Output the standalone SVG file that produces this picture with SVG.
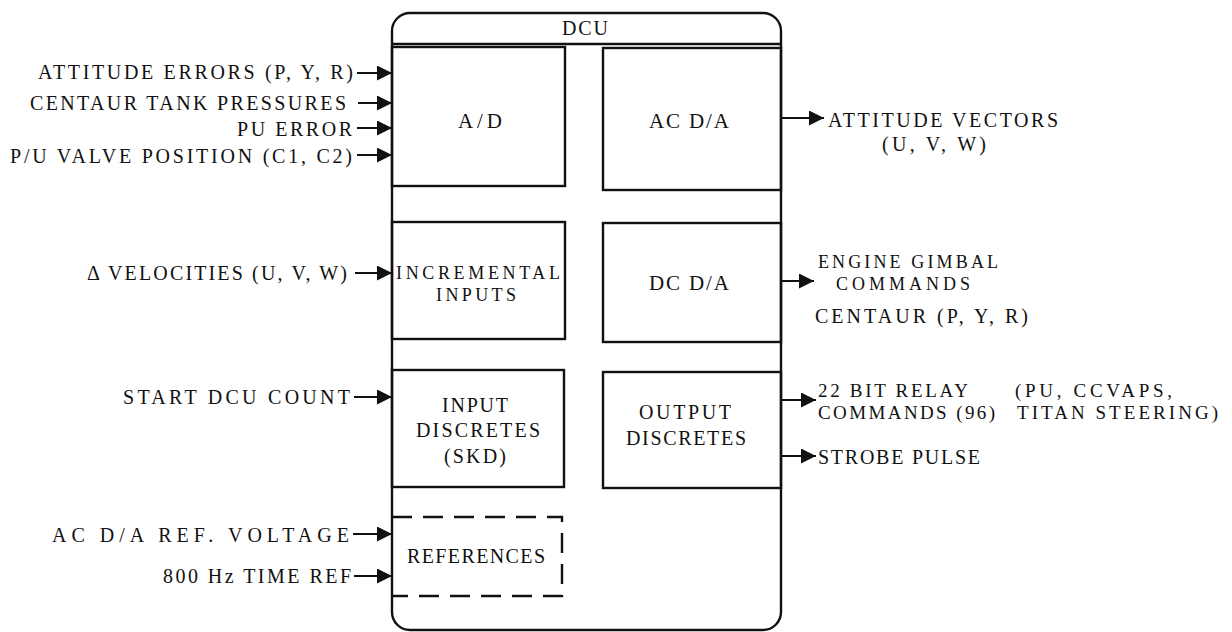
<svg xmlns="http://www.w3.org/2000/svg" width="1232" height="632" viewBox="0 0 1232 632">
<defs>
<style>
.m{text-anchor:middle}
.e{text-anchor:end}
.box{fill:none;stroke:#111;stroke-width:2.4}
.dash{fill:none;stroke:#111;stroke-width:2.4;stroke-dasharray:20 11}
.c{stroke:#111;stroke-width:2.2;fill:none;marker-end:url(#ah)}
</style>
<marker id="ah" markerUnits="userSpaceOnUse" markerWidth="16" markerHeight="16" refX="15" refY="7.5" orient="auto">
<path d="M0,0 L15,7.5 L0,15 z" fill="#111"/>
</marker>
</defs>
<rect width="1232" height="632" fill="#fff"/>

<g id="dcu" font-family="Liberation Serif" font-size="20" fill="#111">
<rect class="box" x="392" y="13" width="389" height="617" rx="18" ry="18"/>
<line class="box" x1="392" y1="44" x2="781" y2="44"/>
<text class="m" x="585" y="35" font-size="20" textLength="46">DCU</text>
</g>

<g id="ad" font-family="Liberation Serif" font-size="21" fill="#111">
<rect class="box" x="392" y="47" width="173" height="139"/>
<text class="m" x="480" y="128" textLength="44">A/D</text>
</g>
<g id="acda" font-family="Liberation Serif" font-size="21" fill="#111">
<rect class="box" x="603" y="48" width="178" height="142"/>
<text class="m" x="689" y="128" textLength="80">AC D/A</text>
</g>
<g id="incremental" font-family="Liberation Serif" font-size="18" fill="#111">
<rect class="box" x="392" y="222" width="173" height="117"/>
<text class="m" x="478" y="279" textLength="164">INCREMENTAL</text>
<text class="m" x="476" y="301" textLength="80">INPUTS</text>
</g>
<g id="dcda" font-family="Liberation Serif" font-size="21" fill="#111">
<rect class="box" x="603" y="223" width="178" height="119"/>
<text class="m" x="689" y="290" textLength="80">DC D/A</text>
</g>
<g id="inputdiscretes" font-family="Liberation Serif" font-size="20" fill="#111">
<rect class="box" x="392" y="370" width="172" height="117"/>
<text class="m" x="475" y="412" textLength="66">INPUT</text>
<text class="m" x="478" y="437" textLength="124">DISCRETES</text>
<text class="m" x="475" y="463" textLength="62">(SKD)</text>
</g>
<g id="outputdiscretes" font-family="Liberation Serif" font-size="20" fill="#111">
<rect class="box" x="603" y="372" width="178" height="116"/>
<text class="m" x="685" y="419" textLength="92">OUTPUT</text>
<text class="m" x="686" y="445" textLength="120">DISCRETES</text>
</g>
<g id="references" font-family="Liberation Serif" font-size="20" fill="#111">
<path class="dash" d="M392,517 H562 V596 H392"/>
<text class="m" x="476" y="563" textLength="138">REFERENCES</text>
</g>

<g id="inputs" font-family="Liberation Serif" font-size="20" fill="#111">
<text class="e" x="353" y="79" textLength="315">ATTITUDE ERRORS (P, Y, R)</text>
<text class="e" x="346" y="110" textLength="316">CENTAUR TANK PRESSURES</text>
<text class="e" x="352" y="136" textLength="115">PU ERROR</text>
<text class="e" x="352" y="163" textLength="342">P/U VALVE POSITION (C1, C2)</text>
<text class="e" x="347" y="280" textLength="260">Δ VELOCITIES (U, V, W)</text>
<text class="e" x="350" y="404" textLength="227">START DCU COUNT</text>
<text class="e" x="349" y="542" textLength="297">AC D/A REF. VOLTAGE</text>
<text class="e" x="351" y="583" textLength="188">800 Hz TIME REF</text>
</g>

<g id="outputs" font-family="Liberation Serif" font-size="20" fill="#111">
<text x="828" y="127" textLength="230">ATTITUDE VECTORS</text>
<text class="m" x="934" y="151" textLength="104">(U, V, W)</text>
<text x="818" y="268" font-size="18" textLength="180">ENGINE GIMBAL</text>
<text x="836" y="290" font-size="18" textLength="134">COMMANDS</text>
<text x="815" y="323" textLength="213">CENTAUR (P, Y, R)</text>
<text x="818" y="397" font-size="19" textLength="150">22 BIT RELAY</text>
<text x="818" y="419" font-size="19" textLength="177">COMMANDS (96)</text>
<text x="1015" y="397" font-size="19" textLength="157">(PU, CCVAPS,</text>
<text x="1017" y="419" font-size="19" textLength="201">TITAN STEERING)</text>
<text x="818" y="464" textLength="162">STROBE PULSE</text>
</g>

<g id="connectors">
<line class="c" x1="357" y1="73" x2="392" y2="73"/>
<line class="c" x1="358" y1="103" x2="392" y2="103"/>
<line class="c" x1="357" y1="128" x2="392" y2="128"/>
<line class="c" x1="357" y1="155" x2="392" y2="155"/>
<line class="c" x1="355" y1="273" x2="392" y2="273"/>
<line class="c" x1="354" y1="397" x2="392" y2="397"/>
<line class="c" x1="353" y1="534" x2="392" y2="534"/>
<line class="c" x1="354" y1="576" x2="392" y2="576"/>
<line class="c" x1="781" y1="118" x2="824" y2="118"/>
<line class="c" x1="781" y1="281" x2="814" y2="281"/>
<line class="c" x1="781" y1="400" x2="816" y2="400"/>
<line class="c" x1="781" y1="456" x2="816" y2="456"/>
</g>
</svg>
